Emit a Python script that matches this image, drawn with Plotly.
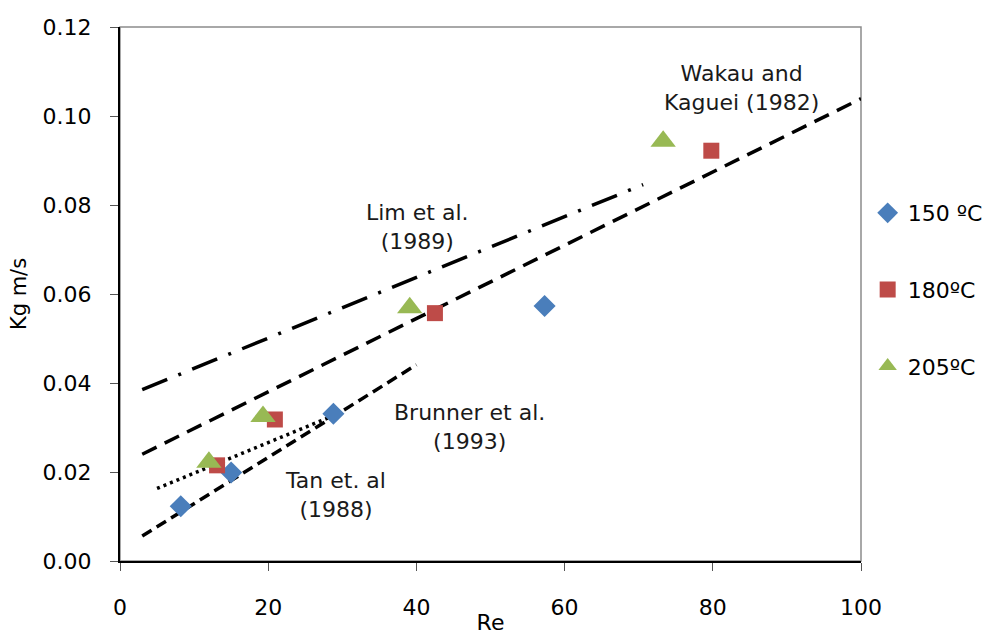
import plotly.graph_objects as go

# Measured mass-transfer coefficients (Kg, m/s) against Reynolds number
re_150 = [8.2, 15.0, 28.8, 57.3]
kg_150 = [0.0123, 0.0199, 0.0331, 0.0573]

re_180 = [13.1, 20.9, 42.5, 79.8]
kg_180 = [0.0215, 0.0318, 0.0557, 0.0922]

re_205 = [12.0, 19.3, 39.1, 73.3]
kg_205 = [0.0222, 0.0325, 0.0569, 0.0943]

# Literature correlations (end points of each line)
lim_re = [3.0, 70.6]
lim_kg = [0.0385, 0.0846]

wakau_re = [3.0, 100.0]
wakau_kg = [0.0240, 0.1039]

tan_re = [3.0, 40.0]
tan_kg = [0.0056, 0.0441]

brunner_re = [5.0, 29.0]
brunner_kg = [0.0163, 0.0328]

# Correlation labels: text, x, y
label_text = ["Wakau and<br>Kaguei (1982)", "Lim et al.<br>(1989)",
              "Brunner et al.<br>(1993)", "Tan et. al<br>(1988)"]
label_x = [83.9, 40.1, 47.2, 29.1]
label_y = [0.1062, 0.0750, 0.0302, 0.0148]

x_ticks = [0, 20, 40, 60, 80, 100]
y_ticks = [0.00, 0.02, 0.04, 0.06, 0.08, 0.10, 0.12]

FONT = "DejaVu Sans"
BLUE = "#4A7EBB"
RED = "#BE4B48"
GREEN = "#98B954"

fig = go.Figure()

line_style = dict(color="black", width=3.5)
fig.add_trace(go.Scatter(x=lim_re, y=lim_kg, mode="lines", showlegend=False,
                         line=dict(**line_style, dash="27px,12px,3px,12px")))
fig.add_trace(go.Scatter(x=wakau_re, y=wakau_kg, mode="lines", showlegend=False,
                         line=dict(**line_style, dash="16px,9px")))
fig.add_trace(go.Scatter(x=tan_re, y=tan_kg, mode="lines", showlegend=False,
                         line=dict(**line_style, dash="11px,6px")))
fig.add_trace(go.Scatter(x=brunner_re, y=brunner_kg, mode="lines", showlegend=False,
                         line=dict(color="black", width=3.5, dash="3px,4px")))

fig.add_trace(go.Scatter(x=re_150, y=kg_150, mode="markers", name="150 ºC",
                         legendgroup="a",
                         marker=dict(symbol="diamond", size=17, color=BLUE)))
fig.add_trace(go.Scatter(x=re_180, y=kg_180, mode="markers", name="180ºC",
                         legendgroup="b",
                         marker=dict(symbol="square", size=16, color=RED)))
fig.add_trace(go.Scatter(x=re_205, y=kg_205, mode="markers", name="205ºC",
                         legendgroup="c",
                         marker=dict(symbol="triangle-up", size=22, color=GREEN)))

for t, x, y in zip(label_text, label_x, label_y):
    fig.add_annotation(x=x, y=y, text=t, showarrow=False,
                       font=dict(family=FONT, size=22, color="#1a1a1a"))

# Light frame around the plotting area
fig.add_shape(type="rect", xref="paper", yref="paper", x0=0, y0=0, x1=1, y1=1,
              line=dict(color="#8c8c8c", width=1.5), layer="below")

fig.update_xaxes(range=[0, 100], tickvals=x_ticks, ticktext=[str(v) for v in x_ticks],
                 showgrid=False, zeroline=False, showline=True, linecolor="black",
                 linewidth=2, ticks="outside", ticklen=8, tickcolor="#555555",
                 ticklabelstandoff=18, automargin=False,
                 tickfont=dict(family=FONT, size=22, color="black"),
                 title=dict(text="Re", standoff=0,
                            font=dict(family=FONT, size=22, color="black")))
fig.update_yaxes(range=[0, 0.12], tickvals=y_ticks,
                 ticktext=[f"{v:.2f}" for v in y_ticks],
                 showgrid=False, zeroline=False, showline=True, linecolor="black",
                 linewidth=2, ticks="outside", ticklen=8, tickcolor="#555555",
                 ticklabelstandoff=14, automargin=False,
                 tickfont=dict(family=FONT, size=22, color="black"),
                 title=dict(text="Kg m/s", standoff=10,
                            font=dict(family=FONT, size=21, color="black")))

fig.update_layout(
    width=983, height=635,
    margin=dict(l=120, r=122, t=27, b=74, autoexpand=False),
    plot_bgcolor="white", paper_bgcolor="white",
    legend=dict(x=1.009, xanchor="left", y=0.691, yanchor="top",
                font=dict(family=FONT, size=22, color="black"),
                tracegroupgap=45, itemwidth=30, bgcolor="rgba(0,0,0,0)"),
)

fig.write_html("out.html")
